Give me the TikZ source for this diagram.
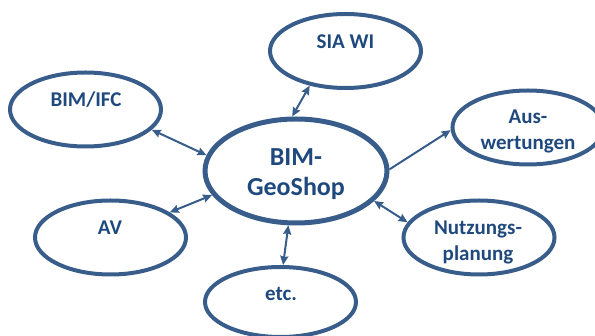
\documentclass[tikz,border=0pt]{standalone}
\usepackage{fontspec}
\setmainfont{Carlito}
\usetikzlibrary{arrows.meta,shapes.geometric}
\definecolor{rim}{HTML}{385D8A}
\definecolor{txt}{HTML}{1F497D}

\begin{document}
\begin{tikzpicture}
[x=1pt, y=-1pt, >={Stealth[length=9pt,width=8pt,inset=1pt]},
entry/.style={ellipse, draw=rim, line width=4pt, inner sep=0pt, minimum width=151pt, minimum height=74pt},
entry2/.style={ellipse, draw=rim, line width=5pt, inner sep=0pt, minimum width=182pt, minimum height=104pt},
conn/.style={draw=rim, line width=2pt},
lbl/.style={text=txt, font=\fontsize{21}{26}\selectfont\bfseries, align=center, inner sep=0pt},
lbl2/.style={text=txt, font=\fontsize{26}{30}\selectfont\bfseries, align=center, inner sep=0pt}]

\useasboundingbox (0,0) rectangle (595,336);
\clip (0,0) rectangle (595,336);

\node[entry2] (geo) at (296,171) {};
\node[entry] (sia) at (345.5,51) {};
\node[entry] (bim) at (85.5,109.5) {};
\node[entry] (aus) at (528,127.5) {};
\node[entry] (av) at (110.5,237.5) {};
\node[entry, minimum height=70pt] (etc) at (280.5,302) {};
\node[entry] (nutz) at (479,237.5) {};

\node[lbl2] (tgeo) at (296,174) {BIM-\\GeoShop};
\node[lbl, anchor=base] (tsia) at (345.5,49) {SIA WI};
\node[lbl, anchor=base] (tbim) at (86,107) {BIM/IFC};
\node[lbl] (taus) at (528,131) {Aus-\\wertungen};
\node[lbl, anchor=base] (tav) at (110,235) {AV};
\node[lbl, anchor=base] (tetc) at (281,301) {etc.};
\node[lbl] (tnutz) at (478,242) {Nutzungs-\\planung};

\draw[conn, <->] (bim.-17) -- (geo.170);
\draw[conn, <->] (sia.-136) -- (geo.94);
\draw[conn, ->] (geo.1) -- (aus.182);
\draw[conn, <->] (av.23) -- (geo.196);
\draw[conn, <->] (geo.262) -- (etc.86);
\draw[conn, <->] (geo.-21) -- (nutz.168);
\end{tikzpicture}
\end{document}
